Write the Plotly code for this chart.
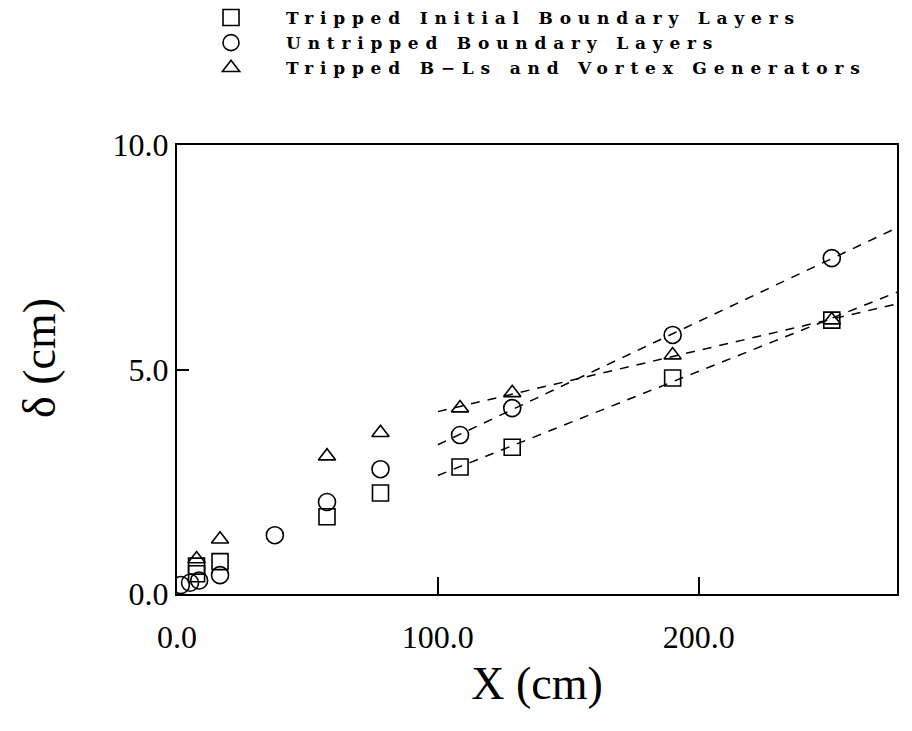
import numpy as np
import plotly.graph_objects as go

# ---- data ----
sq_x = [7.5, 7.5, 16.5, 57.5, 78.0, 108.5, 128.5, 190.0, 251.0]
sq_y = [0.45, 0.62, 0.72, 1.72, 2.25, 2.83, 3.27, 4.81, 6.10]

ci_x = [1.5, 5.0, 8.5, 16.5, 37.5, 57.5, 78.0, 108.5, 128.5, 190.0, 251.0]
ci_y = [0.20, 0.25, 0.30, 0.42, 1.31, 2.05, 2.78, 3.54, 4.14, 5.77, 7.48]

tr_x = [7.5, 16.5, 57.5, 78.0, 108.5, 128.5, 190.0, 251.0]
tr_y = [0.78, 1.22, 3.07, 3.59, 4.14, 4.48, 5.32, 6.10]

names = ["Tripped Initial Boundary Layers",
         "Untripped Boundary Layers",
         "Tripped B\u2212Ls and Vortex Generators"]

fit_start = 100.0
x_range = [0.0, 276.0]
y_range = [0.0, 10.0]
x_ticks = [0, 100, 200]
x_ticktext = ["0.0", "100.0", "200.0"]
y_ticks = [0, 5, 10]
y_ticktext = ["0.0", "5.0", "10.0"]
x_title = "X (cm)"
y_title = "\u03b4 (cm)"

fig = go.Figure()

series = [(sq_x, sq_y, "square-open", 16, names[0]),
          (ci_x, ci_y, "circle-open", 17, names[1]),
          (tr_x, tr_y, "triangle-up-open", 15, names[2])]

for xs, ys, sym, sz, nm in series:
    fig.add_trace(go.Scatter(
        x=xs, y=ys, mode="markers", name='<span style="letter-spacing:6.8px">' + nm + "</span>",
        marker=dict(symbol=sym, size=sz, color="black", line=dict(width=1.6, color="black")),
    ))

# linear fits over the downstream (x >= 100) points, drawn as dashed lines
for xs, ys, _, _, nm in series:
    xa = np.array(xs)
    ya = np.array(ys)
    m = xa >= fit_start
    k, b = np.polyfit(xa[m], ya[m], 1)
    lx = np.array([fit_start, x_range[1]])
    fig.add_trace(go.Scatter(
        x=lx, y=k * lx + b, mode="lines", showlegend=False,
        line=dict(color="black", width=1.5, dash="9px,8px"), hoverinfo="skip",
    ))

serif = "Liberation Serif"

fig.update_layout(
    width=912, height=731,
    margin=dict(l=177, r=15, t=145, b=137, autoexpand=False),
    paper_bgcolor="white", plot_bgcolor="white",
    font=dict(family=serif, color="black"),
    showlegend=True,
    legend=dict(
        xref="container", yref="container", x=0.193, y=1.024,
        xanchor="left", yanchor="top",
        font=dict(family="DejaVu Serif", size=17, color="black", weight="bold"),
        itemwidth=100, bgcolor="rgba(0,0,0,0)", borderwidth=0,
        traceorder="normal",
    ),
    xaxis=dict(
        range=x_range, tickvals=x_ticks, ticktext=x_ticktext,
        ticks="inside", ticklen=17, tickwidth=2, tickcolor="black",
        showline=True, linewidth=2, linecolor="black", mirror=True,
        showgrid=False, zeroline=False,
        tickfont=dict(family=serif, size=32),
        ticklabelstandoff=14,
        title=dict(text=x_title, font=dict(family=serif, size=46), standoff=12),
    ),
    yaxis=dict(
        range=y_range, tickvals=y_ticks, ticktext=y_ticktext,
        ticks="inside", ticklen=12, tickwidth=2, tickcolor="black",
        showline=True, linewidth=2, linecolor="black", mirror=True,
        showgrid=False, zeroline=False,
        tickfont=dict(family=serif, size=32),
    ),
    annotations=[dict(
        text=y_title, xref="paper", yref="paper", x=-0.19, y=0.526,
        xanchor="center", yanchor="middle", textangle=-90, showarrow=False,
        font=dict(family=serif, size=46, color="black"),
    )],
)

fig.write_html("out.html", config={"displayModeBar": False},
               post_script="document.body.style.margin='0';")
